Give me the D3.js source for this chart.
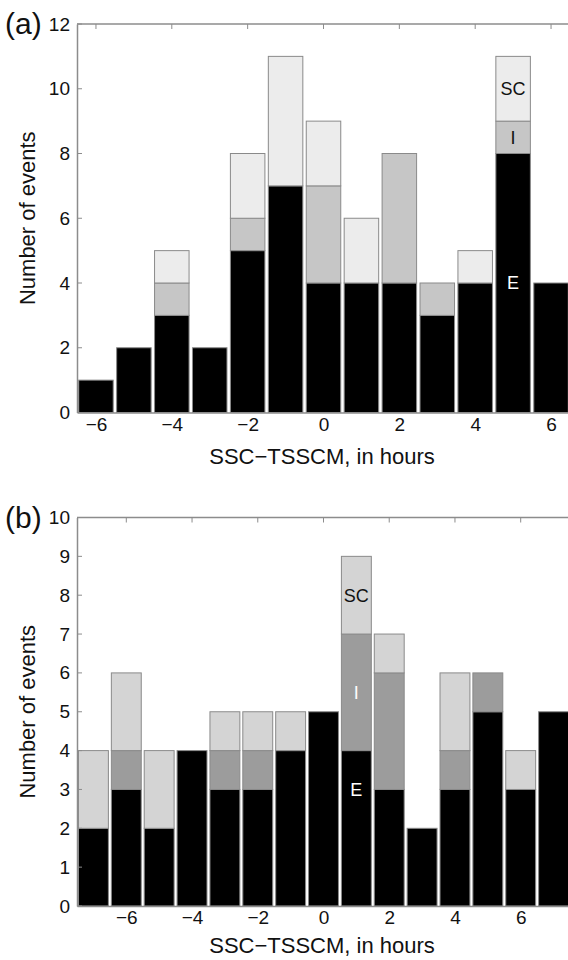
<!DOCTYPE html>
<html>
<head>
<meta charset="utf-8">
<script src="https://cdn.jsdelivr.net/npm/d3@7"></script>
<style>
  body { margin: 0; background: #fff; }
  svg text { font-family: "Liberation Sans", Arial, sans-serif; }
</style>
</head>
<body>
<div id="chart"></div>
<script>
// panel (a): hours -6..6
var hoursA = [-6, -5, -4, -3, -2, -1, 0, 1, 2, 3, 4, 5, 6];
var eA  = [1, 2, 3, 2, 5, 7, 4, 4, 4, 3, 4, 8, 4];
var iA  = [0, 0, 1, 0, 1, 0, 3, 0, 4, 1, 0, 1, 0];
var scA = [0, 0, 1, 0, 2, 4, 2, 2, 0, 0, 1, 2, 0];
var yTicksA = [0, 2, 4, 6, 8, 10, 12];
var xTicksA = [-6, -4, -2, 0, 2, 4, 6];

// panel (b): hours -7..7
var hoursB = [-7, -6, -5, -4, -3, -2, -1, 0, 1, 2, 3, 4, 5, 6, 7];
var eB  = [2, 3, 2, 4, 3, 3, 4, 5, 4, 3, 2, 3, 5, 3, 5];
var iB  = [0, 1, 0, 0, 1, 1, 0, 0, 3, 3, 0, 1, 1, 0, 0];
var scB = [2, 2, 2, 0, 1, 1, 1, 0, 2, 1, 0, 2, 0, 1, 0];
var yTicksB = [0, 1, 2, 3, 4, 5, 6, 7, 8, 9, 10];
var xTicksB = [-6, -4, -2, 0, 2, 4, 6];

var svg = d3.select("#chart").append("svg")
    .attr("width", 568)
    .attr("height", 960);

function drawPanel(opt) {
    var g = svg.append("g");
    var left = 77, right = 570;

    var x = d3.scaleLinear()
        .domain([opt.hours[0] - 0.5, opt.hours[opt.hours.length - 1] + 0.5])
        .range([left, right]);
    var y = d3.scaleLinear()
        .domain([0, opt.ymax])
        .range([opt.bottom, opt.top]);

    var data = opt.hours.map(function(h, i) {
        return {h: h, E: opt.e[i], I: opt.i[i], SC: opt.sc[i]};
    });
    var stack = d3.stack().keys(["E", "I", "SC"])(data);
    var colors = {E: "#000000", I: opt.iColor, SC: opt.scColor};
    var bw = (x(1) - x(0)) * 0.91;

    // frame (top line)
    g.append("line")
        .attr("x1", left).attr("x2", right)
        .attr("y1", opt.top).attr("y2", opt.top)
        .attr("stroke", "#8c8c8c").attr("stroke-width", 1.5);

    stack.forEach(function(layer) {
        g.selectAll(".bar-" + layer.key)
            .data(layer.filter(function(d) { return d[1] > d[0]; }))
            .enter().append("rect")
            .attr("x", function(d) { return x(d.data.h) - bw / 2; })
            .attr("y", function(d) { return y(d[1]); })
            .attr("width", bw)
            .attr("height", function(d) { return y(d[0]) - y(d[1]); })
            .attr("fill", colors[layer.key])
            .attr("stroke", "#8a8a8a")
            .attr("stroke-width", 1);
    });

    // left axis, inward ticks
    var yAxis = d3.axisLeft(y).tickValues(opt.yTicks).tickSize(0).tickPadding(7);
    var ya = g.append("g").attr("transform", "translate(" + left + ",0)").call(yAxis);
    ya.select(".domain").attr("stroke", "#8c8c8c").attr("stroke-width", 1.5);
    ya.selectAll("text").style("font-size", "19px").attr("fill", "#111");
    g.selectAll(".ytick-in")
        .data(opt.yTicks)
        .enter().append("line")
        .attr("x1", left).attr("x2", left + 5)
        .attr("y1", function(d) { return y(d); })
        .attr("y2", function(d) { return y(d); })
        .attr("stroke", "#8c8c8c");

    // bottom axis
    var xAxis = d3.axisBottom(x).tickValues(opt.xTicks).tickSize(0).tickPadding(5)
        .tickFormat(function(d) { return d < 0 ? "\u2212" + Math.abs(d) : d; });
    var xa = g.append("g").attr("transform", "translate(0," + opt.bottom + ")").call(xAxis);
    xa.select(".domain").attr("stroke", "#8c8c8c").attr("stroke-width", 1.5);
    xa.selectAll("text").style("font-size", "19px").attr("fill", "#111");

    // top inward ticks
    g.selectAll(".xtick-top")
        .data(opt.xTicks)
        .enter().append("line")
        .attr("x1", function(d) { return x(d); })
        .attr("x2", function(d) { return x(d); })
        .attr("y1", opt.top).attr("y2", opt.top + 5)
        .attr("stroke", "#8c8c8c");

    // titles
    g.append("text")
        .attr("transform", "translate(27," + ((opt.top + opt.bottom) / 2) + ") rotate(-90)")
        .attr("text-anchor", "middle")
        .attr("dy", "0.35em")
        .style("font-size", "22px")
        .attr("fill", "#111")
        .text("Number of events");

    g.append("text")
        .attr("x", 322)
        .attr("y", opt.bottom + opt.titleGap)
        .attr("text-anchor", "middle")
        .style("font-size", "22px")
        .attr("fill", "#111")
        .text("SSC\u2212TSSCM, in hours");

    g.append("text")
        .attr("x", 5)
        .attr("y", opt.top + 10)
        .style("font-size", "30px")
        .attr("fill", "#111")
        .text(opt.label);

    // in-bar labels
    var lb = opt.labelBar;
    var idx = opt.hours.indexOf(lb);
    var d0 = data[idx];
    var labels = [
        {t: "E", v: d0.E / 2 + opt.eShift, c: "#fff"},
        {t: "I", v: d0.E + d0.I / 2, c: opt.iText},
        {t: "SC", v: d0.E + d0.I + d0.SC / 2, c: "#111"}
    ];
    g.selectAll(".inlabel")
        .data(labels)
        .enter().append("text")
        .attr("x", x(lb))
        .attr("y", function(d) { return y(d.v); })
        .attr("dy", "0.35em")
        .attr("text-anchor", "middle")
        .style("font-size", "18px")
        .attr("fill", function(d) { return d.c; })
        .text(function(d) { return d.t; });
}

drawPanel({
    hours: hoursA, e: eA, i: iA, sc: scA,
    ymax: 12, top: 24, bottom: 412.5,
    yTicks: yTicksA, xTicks: xTicksA,
    iColor: "#c6c6c6", scColor: "#ececec", iText: "#111",
    label: "(a)", labelBar: 5, eShift: 0, titleGap: 51
});

drawPanel({
    hours: hoursB, e: eB, i: iB, sc: scB,
    ymax: 10, top: 517.5, bottom: 906,
    yTicks: yTicksB, xTicks: xTicksB,
    iColor: "#9c9c9c", scColor: "#d4d4d4", iText: "#fff",
    label: "(b)", labelBar: 1, eShift: 1, titleGap: 47
});
</script>
</body>
</html>
